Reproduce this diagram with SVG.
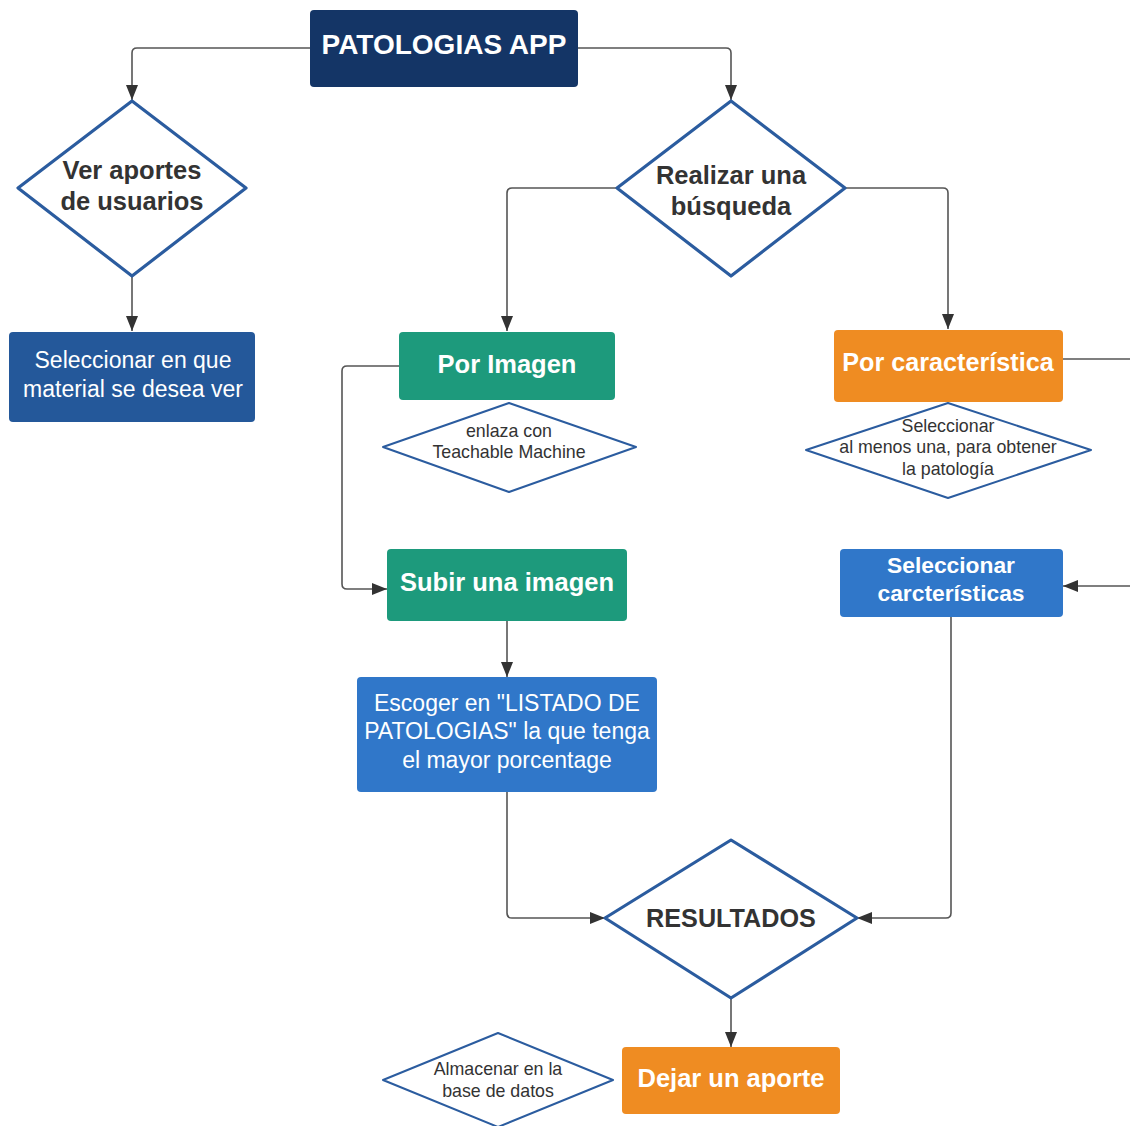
<svg xmlns="http://www.w3.org/2000/svg" width="1130" height="1126" viewBox="0 0 1130 1126">
  <style>
    .box { stroke: none; }
    .dia { fill: #ffffff; stroke: #2b5c9f; stroke-width: 3.2; stroke-linejoin: round; }
    .dia-s { fill: #ffffff; stroke: #2b5c9f; stroke-width: 2; stroke-linejoin: round; }
    .t { font-family: "Liberation Sans", Arial, sans-serif; text-anchor: middle; }
    .tw { fill: #ffffff; }
    .td { fill: #333333; }
    .b { font-weight: bold; }
    .conn { fill: none; stroke: #555555; stroke-width: 1.6; }
  </style>
  <defs>
    <marker id="arrow" markerUnits="userSpaceOnUse" markerWidth="15" markerHeight="12" viewBox="0 0 15 12" refX="15" refY="6" orient="auto">
      <path d="M0,0 L15,6 L0,12 z" fill="#333333"/>
    </marker>
  </defs>

  <rect width="1130" height="1126" fill="#ffffff"/>

  <!-- connectors -->
  <g id="connectors">
    <path class="conn" d="M310,48 H137 Q132,48 132,53 V100" marker-end="url(#arrow)"/>
    <path class="conn" d="M578,48 H726 Q731,48 731,53 V100" marker-end="url(#arrow)"/>
    <path class="conn" d="M132,276 V331" marker-end="url(#arrow)"/>
    <path class="conn" d="M617,188 H512 Q507,188 507,193 V331" marker-end="url(#arrow)"/>
    <path class="conn" d="M845,188 H943 Q948,188 948,193 V329" marker-end="url(#arrow)"/>
    <path class="conn" d="M399,366 H347 Q342,366 342,371 V584 Q342,589 347,589 H387" marker-end="url(#arrow)"/>
    <path class="conn" d="M507,621 V677" marker-end="url(#arrow)"/>
    <path class="conn" d="M507,792 V913 Q507,918 512,918 H605" marker-end="url(#arrow)"/>
    <path class="conn" d="M951,617 V913 Q951,918 946,918 H857" marker-end="url(#arrow)"/>
    <path class="conn" d="M731,998 V1047" marker-end="url(#arrow)"/>
    <path class="conn" d="M1063,359 H1130"/>
    <path class="conn" d="M1130,586 H1063" marker-end="url(#arrow)"/>
  </g>

  <!-- main title -->
  <g id="app">
    <rect class="box" x="310" y="10" width="268" height="77" rx="4" fill="#143566"/>
    <text class="t tw b" x="444" y="54" font-size="28">PATOLOGIAS APP</text>
  </g>

  <g id="ver-aportes">
    <polygon class="dia" points="132,101 246,188 132,276 18,188"/>
    <text class="t td b" x="132" y="179" font-size="25.5">Ver aportes</text>
    <text class="t td b" x="132" y="210" font-size="25.5">de usuarios</text>
  </g>

  <g id="seleccionar-material">
    <rect class="box" x="9" y="332" width="246" height="90" rx="4" fill="#24589a"/>
    <text class="t tw" x="133" y="368" font-size="23">Seleccionar en que</text>
    <text class="t tw" x="133" y="397" font-size="23">material se desea ver</text>
  </g>

  <g id="realizar-busqueda">
    <polygon class="dia" points="731,101 845,188 731,276 617,188"/>
    <text class="t td b" x="731" y="184" font-size="25.5">Realizar una</text>
    <text class="t td b" x="731" y="215" font-size="25.5">búsqueda</text>
  </g>

  <g id="por-imagen">
    <rect class="box" x="399" y="332" width="216" height="68" rx="4" fill="#1d9a7c"/>
    <text class="t tw b" x="507" y="373" font-size="25.5">Por Imagen</text>
  </g>

  <g id="teachable">
    <polygon class="dia-s" points="509,403 636,447 509,492 383,447"/>
    <text class="t td" x="509" y="437" font-size="17.8">enlaza con</text>
    <text class="t td" x="509" y="458" font-size="17.8">Teachable Machine</text>
  </g>

  <g id="subir-imagen">
    <rect class="box" x="387" y="549" width="240" height="72" rx="4" fill="#1d9a7c"/>
    <text class="t tw b" x="507" y="591" font-size="25.5">Subir una imagen</text>
  </g>

  <g id="escoger">
    <rect class="box" x="357" y="677" width="300" height="115" rx="4" fill="#3077c9"/>
    <text class="t tw" x="507" y="711" font-size="23">Escoger en "LISTADO DE</text>
    <text class="t tw" x="507" y="739" font-size="23">PATOLOGIAS" la que tenga</text>
    <text class="t tw" x="507" y="768" font-size="23">el mayor porcentage</text>
  </g>

  <g id="por-caracteristica">
    <rect class="box" x="834" y="330" width="229" height="72" rx="4" fill="#ef8c22"/>
    <text class="t tw b" x="948" y="371" font-size="25.2">Por característica</text>
  </g>

  <g id="al-menos-una">
    <polygon class="dia-s" points="948,403 1091,450 948,498 806,450"/>
    <text class="t td" x="948" y="432" font-size="17.8">Seleccionar</text>
    <text class="t td" x="948" y="453" font-size="17.8">al menos una, para obtener</text>
    <text class="t td" x="948" y="475" font-size="17.8">la patología</text>
  </g>

  <g id="seleccionar-caracteristicas">
    <rect class="box" x="840" y="549" width="223" height="68" rx="4" fill="#3077c9"/>
    <text class="t tw b" x="951" y="573" font-size="22.8">Seleccionar</text>
    <text class="t tw b" x="951" y="601" font-size="22.8">carcterísticas</text>
  </g>

  <g id="resultados">
    <polygon class="dia" points="731,840 857,918 731,998 605,918"/>
    <text class="t td b" x="731" y="927" font-size="25.2">RESULTADOS</text>
  </g>

  <g id="dejar-aporte">
    <rect class="box" x="622" y="1047" width="218" height="67" rx="4" fill="#ef8c22"/>
    <text class="t tw b" x="731" y="1087" font-size="25.5">Dejar un aporte</text>
  </g>

  <g id="almacenar">
    <polygon class="dia-s" points="498,1033 613,1080 498,1127 383,1080"/>
    <text class="t td" x="498" y="1075" font-size="17.8">Almacenar en la</text>
    <text class="t td" x="498" y="1097" font-size="17.8">base de datos</text>
  </g>
</svg>
